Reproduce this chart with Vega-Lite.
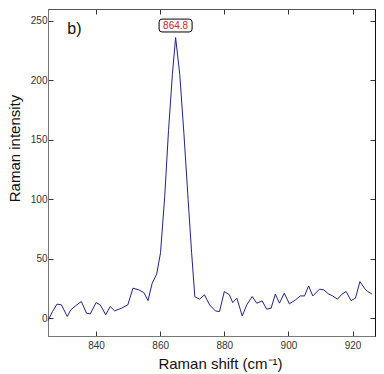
{
  "$schema": "https://vega.github.io/schema/vega-lite/v6.json",
  "width": 327,
  "height": 327,
  "autosize": "none",
  "padding": {"left": 48, "top": 9, "right": 9, "bottom": 38},
  "background": "white",
  "config": {
    "font": "Liberation Sans",
    "view": {"stroke": "#333333", "strokeWidth": 1},
    "axis": {
      "grid": false,
      "domainColor": "#777777",
      "tickColor": "#333333",
      "tickSize": -5,
      "labelFontSize": 10,
      "labelColor": "#333333",
      "titleFontSize": 15,
      "titleFontWeight": "normal",
      "titleColor": "#111111"
    }
  },
  "datasets": {
    "spectrum": [
      {"shift": 825.0, "intensity": -2},
      {"shift": 826.4, "intensity": 5.5},
      {"shift": 827.8, "intensity": 11.8},
      {"shift": 829.2, "intensity": 11.2},
      {"shift": 831.0, "intensity": 1.4},
      {"shift": 832.1, "intensity": 7},
      {"shift": 834.0, "intensity": 11.2},
      {"shift": 835.4, "intensity": 14},
      {"shift": 837.0, "intensity": 4.2},
      {"shift": 838.2, "intensity": 3.6},
      {"shift": 840.0, "intensity": 13.1},
      {"shift": 841.3, "intensity": 11.2},
      {"shift": 843.0, "intensity": 2.8},
      {"shift": 844.4, "intensity": 9.8},
      {"shift": 845.8, "intensity": 6.1},
      {"shift": 847.9, "intensity": 8.4},
      {"shift": 849.9, "intensity": 11.2},
      {"shift": 851.5, "intensity": 25.2},
      {"shift": 853.3, "intensity": 23.8},
      {"shift": 854.9, "intensity": 21.5},
      {"shift": 856.2, "intensity": 14.8},
      {"shift": 857.5, "intensity": 29.4},
      {"shift": 858.9, "intensity": 37},
      {"shift": 860.1, "intensity": 55},
      {"shift": 861.4, "intensity": 102},
      {"shift": 862.6, "intensity": 158},
      {"shift": 863.8, "intensity": 205},
      {"shift": 864.8, "intensity": 236},
      {"shift": 866.1, "intensity": 205},
      {"shift": 867.4, "intensity": 155},
      {"shift": 868.7, "intensity": 100},
      {"shift": 869.8, "intensity": 55},
      {"shift": 870.8, "intensity": 18},
      {"shift": 872.3, "intensity": 16},
      {"shift": 873.8, "intensity": 19.6},
      {"shift": 875.4, "intensity": 11.2},
      {"shift": 877.2, "intensity": 6.1},
      {"shift": 878.5, "intensity": 5.5},
      {"shift": 880.0, "intensity": 22.4},
      {"shift": 881.6, "intensity": 19.6},
      {"shift": 882.6, "intensity": 13.1},
      {"shift": 883.9, "intensity": 16.8},
      {"shift": 885.6, "intensity": 1.9},
      {"shift": 887.0, "intensity": 11.2},
      {"shift": 888.7, "intensity": 18.2},
      {"shift": 890.1, "intensity": 12.6},
      {"shift": 891.8, "intensity": 14.5},
      {"shift": 893.2, "intensity": 7.6},
      {"shift": 894.6, "intensity": 8.4},
      {"shift": 895.9, "intensity": 20.2},
      {"shift": 897.2, "intensity": 12.6},
      {"shift": 898.7, "intensity": 21},
      {"shift": 900.3, "intensity": 12},
      {"shift": 902.2, "intensity": 15.4},
      {"shift": 903.7, "intensity": 18.7},
      {"shift": 905.0, "intensity": 18.7},
      {"shift": 906.3, "intensity": 27.1},
      {"shift": 907.6, "intensity": 18.7},
      {"shift": 909.7, "intensity": 24.4},
      {"shift": 911.0, "intensity": 23.8},
      {"shift": 912.6, "intensity": 20.2},
      {"shift": 913.8, "intensity": 18.7},
      {"shift": 915.3, "intensity": 16},
      {"shift": 916.7, "intensity": 20.2},
      {"shift": 918.0, "intensity": 22.4},
      {"shift": 919.5, "intensity": 14.8},
      {"shift": 920.9, "intensity": 16.8},
      {"shift": 922.3, "intensity": 30.8},
      {"shift": 923.7, "intensity": 25.2},
      {"shift": 924.7, "intensity": 22.4},
      {"shift": 926.0, "intensity": 20.4}
    ],
    "peak": [{"shift": 864.8, "intensity": 236, "label": "864.8"}]
  },
  "resolve": {"axis": {"x": "independent", "y": "independent"}},
  "layer": [
    {
      "data": {"name": "spectrum"},
      "mark": {"type": "line", "color": "#22228c", "strokeWidth": 1},
      "encoding": {
        "x": {
          "field": "shift", "type": "quantitative",
          "scale": {"domain": [825, 927], "nice": false, "zero": false},
          "axis": {"orient": "bottom", "values": [840, 860, 880, 900, 920], "title": "Raman shift (cm⁻¹)", "labelPadding": 9, "titlePadding": 6, "titleX": 172}
        },
        "y": {
          "field": "intensity", "type": "quantitative",
          "scale": {"domain": [-15, 260], "nice": false, "zero": false},
          "axis": {"orient": "left", "values": [0, 50, 100, 150, 200, 250], "title": "Raman intensity", "labelPadding": 6, "titlePadding": 8, "titleY": 139}
        }
      }
    },
    {
      "data": {"name": "peak"},
      "mark": {
        "type": "point",
        "shape": "M -0.82 -0.39 L 0.82 -0.39 Q 1 -0.39 1 -0.21 L 1 0.21 Q 1 0.39 0.82 0.39 L -0.82 0.39 Q -1 0.39 -1 0.21 L -1 -0.21 Q -1 -0.39 -0.82 -0.39 Z",
        "size": 1089,
        "filled": true,
        "fill": "white",
        "stroke": "black",
        "strokeWidth": 1,
        "opacity": 1,
        "yOffset": -12
      },
      "encoding": {
        "x": {
          "field": "shift", "type": "quantitative",
          "scale": {"domain": [825, 927], "nice": false, "zero": false},
          "axis": {"orient": "top", "values": [840, 860, 880, 900, 920], "labels": false, "title": null, "domainColor": "#555555"}
        },
        "y": {
          "field": "intensity", "type": "quantitative",
          "scale": {"domain": [-15, 260], "nice": false, "zero": false},
          "axis": {"orient": "right", "values": [0, 50, 100, 150, 200, 250], "labels": false, "title": null, "domainColor": "#111111"}
        }
      }
    },
    {
      "data": {"name": "peak"},
      "mark": {"type": "text", "color": "#d42020", "fontSize": 10, "dy": -12, "align": "center", "baseline": "middle"},
      "encoding": {
        "x": {"field": "shift", "type": "quantitative", "axis": null},
        "y": {"field": "intensity", "type": "quantitative", "axis": null},
        "text": {"field": "label"}
      }
    },
    {
      "data": {"name": "peak"},
      "mark": {"type": "text", "color": "#111111", "fontSize": 16, "align": "left", "baseline": "middle"},
      "encoding": {
        "x": {"datum": 831, "type": "quantitative", "axis": null},
        "y": {"datum": 243, "type": "quantitative", "axis": null},
        "text": {"value": "b)"}
      }
    }
  ]
}
